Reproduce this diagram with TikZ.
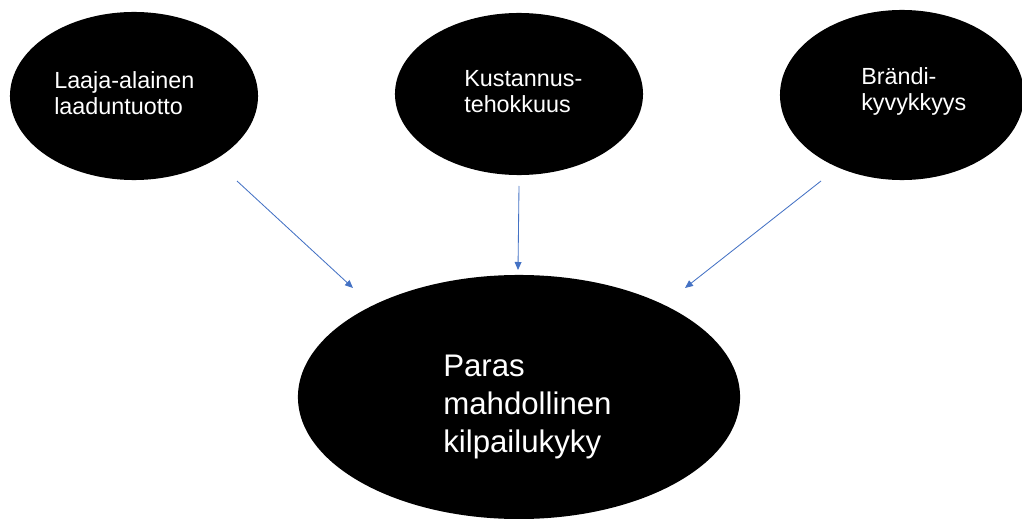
\documentclass[tikz,border=0pt]{standalone}
\usepackage{fontspec}
\setmainfont{Liberation Sans}
\usetikzlibrary{arrows.meta,positioning,shapes.geometric,calc}
\definecolor{ArrowBlue}{RGB}{68,114,196}

\begin{document}
\begin{tikzpicture}[x=0.025cm,y=-0.025cm, blob/.style={ellipse,fill=black,inner sep=0pt,minimum width=6.2cm,minimum height=4.2cm}, bigblob/.style={ellipse,fill=black,inner sep=0pt,minimum width=11.05cm,minimum height=6.1cm}, lbl/.style={text=white,align=left,inner sep=0pt,anchor=base west,font=\fontsize{16.6}{19}\selectfont}, biglbl/.style={lbl,font=\fontsize{22.2}{27}\selectfont}, link/.style={-{Triangle[length=2mm,width=1.7mm]},ArrowBlue,line width=0.6pt}]
\useasboundingbox (0,0) rectangle (1022,519);
\node[blob] (laatu) at (134,96) {};
\node[blob,minimum height=4.05cm] (kust) at (519,94) {};
\node[blob,minimum width=6.1cm,minimum height=4.25cm] (brandi) at (902,95) {};
\node[bigblob] (kilpa) at (519,397) {};
\node[lbl] (laatutxt) at (54,115) {Laaja-alainen\\laaduntuotto};
\node[lbl] (kusttxt) at (464,113) {Kustannus-\\tehokkuus};
\node[lbl] (brandtxt) at (861,111) {Brändi-\\kyvykkyys};
\node[biglbl] (kilpatxt) at (443,452) {Paras\\mahdollinen\\kilpailukyky};
% free ends of the arrows
\coordinate (a1) at (237,181); \coordinate (a2) at (353,288);
\coordinate (b1) at (519,186); \coordinate (b2) at (518,270);
\coordinate (c1) at (821,181); \coordinate (c2) at (685,288);
\foreach \s/\t in {a1/a2,b1/b2,c1/c2}{\draw[link] (\s)--(\t);}
\end{tikzpicture}
\end{document}
